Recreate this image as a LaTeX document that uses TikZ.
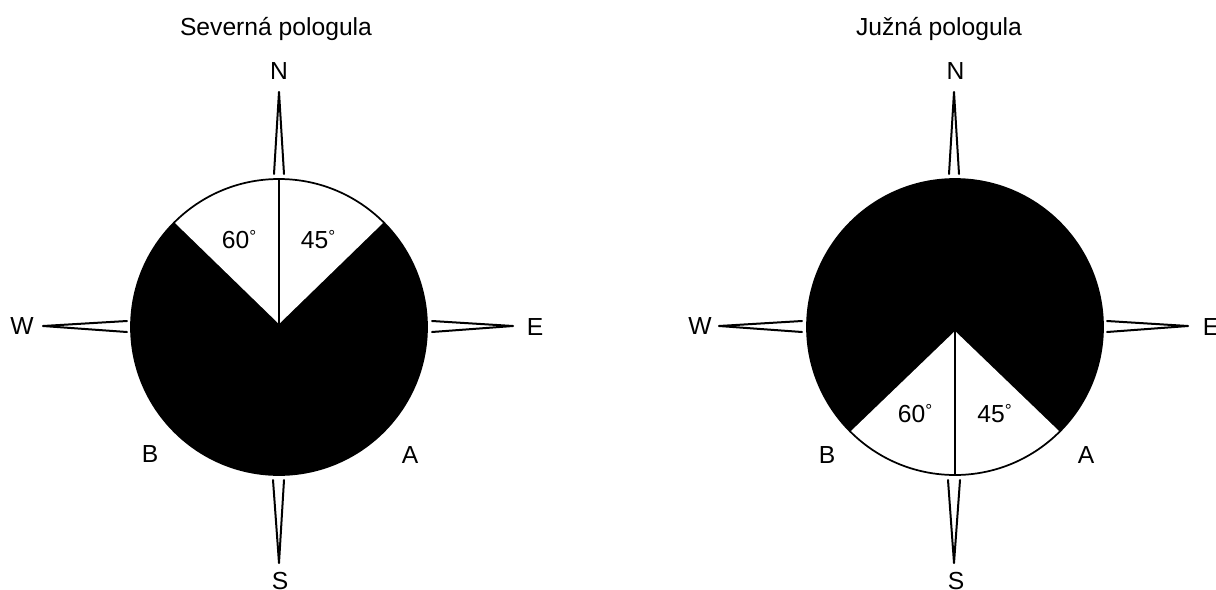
\documentclass[tikz,border=0pt]{standalone}
\usepackage{fontspec}
\setmainfont{Liberation Sans}
\newcommand{\dg}{\raisebox{3.8pt}{\fontsize{13}{13}\selectfont°}}
\begin{document}
\begin{tikzpicture}[x=0.75pt,y=-0.75pt,
  lbl/.style={anchor=base,inner sep=0pt,font=\fontsize{18.5}{20}\selectfont},
  needle/.style={line width=1.5pt,line join=round,line cap=round},
  rim/.style={line width=1.3pt},
  axisline/.style={line width=1.2pt}]
\useasboundingbox (0,0) rectangle (1216,589);

% ---------------- Left: Severna pologula ----------------
\coordinate (Lc) at (279,327);
\coordinate (La) at (279,324);
\fill[black] (Lc) circle[radius=148];
\fill[white] (Lc) ++(225:148) arc[start angle=225,end angle=315,radius=148] -- (La) -- cycle;
\draw[rim] (Lc) circle[radius=148];
\coordinate (Ltop) at (279,179);
\draw[axisline] (La) -- (Ltop);

% needles
\coordinate (LNt) at (279,92);  \coordinate (LNa) at (274,174); \coordinate (LNb) at (284,174);
\coordinate (LSt) at (279,563); \coordinate (LSa) at (273,480); \coordinate (LSb) at (284,480);
\coordinate (LWt) at (43,326);  \coordinate (LWa) at (127,321); \coordinate (LWb) at (127,332);
\coordinate (LEt) at (513,326); \coordinate (LEa) at (432,321); \coordinate (LEb) at (432,332);
\draw[needle] (LNa) -- (LNt) -- (LNb);
\draw[needle] (LSa) -- (LSt) -- (LSb);
\draw[needle] (LWa) -- (LWt) -- (LWb);
\draw[needle] (LEa) -- (LEt) -- (LEb);

\node[lbl] (Ltitle) at (276,36) {Severná pologula};
\node[lbl] (LN) at (279,79) {N};
\node[lbl] (LS) at (280,589) {S};
\node[lbl] (LW) at (22,334) {W};
\node[lbl] (LE) at (535,335) {E};
\node[lbl] (LB) at (150,462) {B};
\node[lbl] (LA) at (410,463) {A};
\node[lbl] (L60) at (239,248) {60\dg};
\node[lbl] (L45) at (318,248) {45\dg};

% ---------------- Right: Juzna pologula ----------------
\coordinate (Rc) at (955,327);
\coordinate (Ra) at (955,331);
\fill[black] (Rc) circle[radius=148];
\fill[white] (Rc) ++(45:148) arc[start angle=45,end angle=135,radius=148] -- (Ra) -- cycle;
\draw[rim] (Rc) circle[radius=148];
\coordinate (Rbot) at (955,475);
\draw[axisline] (Ra) -- (Rbot);

\coordinate (RNt) at (954,92);  \coordinate (RNa) at (949,174); \coordinate (RNb) at (959,174);
\coordinate (RSt) at (954,563); \coordinate (RSa) at (948,480); \coordinate (RSb) at (960,480);
\coordinate (RWt) at (719,326); \coordinate (RWa) at (802,321); \coordinate (RWb) at (802,332);
\coordinate (REt) at (1188,326);\coordinate (REa) at (1107,321);\coordinate (REb) at (1107,332);
\draw[needle] (RNa) -- (RNt) -- (RNb);
\draw[needle] (RSa) -- (RSt) -- (RSb);
\draw[needle] (RWa) -- (RWt) -- (RWb);
\draw[needle] (REa) -- (REt) -- (REb);

\node[lbl] (Rtitle) at (939,36) {Južná pologula};
\node[lbl] (RN) at (955.5,79) {N};
\node[lbl] (RS) at (956,589) {S};
\node[lbl] (RW) at (700,334) {W};
\node[lbl] (RE) at (1211,335) {E};
\node[lbl] (RB) at (827,463) {B};
\node[lbl] (RA) at (1086,463) {A};
\node[lbl] (R60) at (915,422) {60\dg};
\node[lbl] (R45) at (994.5,422) {45\dg};
\end{tikzpicture}
\end{document}
